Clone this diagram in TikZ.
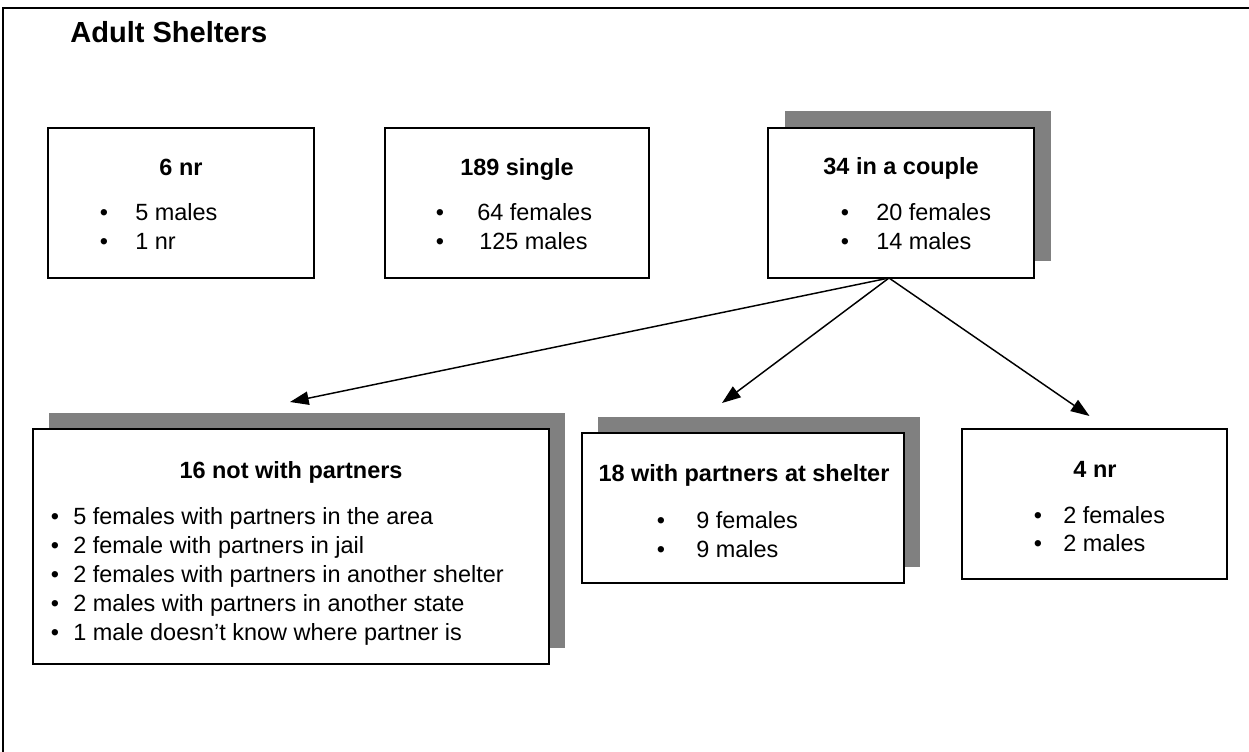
\documentclass[tikz,border=0pt]{standalone}
\usepackage{fontspec}
\setmainfont{Liberation Sans}
\usetikzlibrary{arrows.meta,calc}
\definecolor{shadegray}{HTML}{808080}
\tikzset{
  box/.style={draw=black, line width=1.4pt, fill=white, rectangle, inner sep=0pt, outer sep=0pt, anchor=north west},
  shadebox/.style={fill=shadegray, rectangle, inner sep=0pt, outer sep=0pt, anchor=north west},
  hd/.style={anchor=base, inner sep=0pt, font=\bfseries\fontsize{17.6pt}{20pt}\selectfont},
  itm/.style={anchor=base west, inner sep=0pt, font=\fontsize{17.6pt}{20pt}\selectfont},
  bul/.style={anchor=base, inner sep=0pt, font=\fontsize{17.6pt}{20pt}\selectfont},
  arr/.style={-{Triangle[length=14pt,width=10pt]}, line width=1.1pt},
  frameline/.style={line width=1.5pt},
}
\begin{document}
\begin{tikzpicture}[x=0.75pt,y=-0.75pt]
\useasboundingbox (0,0) rectangle (1249,752);
\draw[frameline] (3,752) -- (3,8) -- (1249,8);
\node[anchor=base west, inner sep=0pt, font=\bfseries\fontsize{21.8pt}{24pt}\selectfont] (title) at (70,43) {Adult Shelters};

% shadows
\node[shadebox, minimum width=199.5pt, minimum height=112.5pt] (Cs) at (785,111) {};
\node[shadebox, minimum width=387pt, minimum height=176.25pt] (Ds) at (49,413) {};
\node[shadebox, minimum width=241.5pt, minimum height=112.5pt] (Es) at (598,417) {};

% boxes
\node[box, minimum width=199.5pt, minimum height=112.5pt] (A) at (48,128) {};
\node[box, minimum width=198pt, minimum height=112.5pt] (B) at (385,128) {};
\node[box, minimum width=199.5pt, minimum height=112.5pt] (C) at (768,128) {};
\node[box, minimum width=387pt, minimum height=176.25pt] (D) at (33,429) {};
\node[box, minimum width=241.5pt, minimum height=112.5pt] (E) at (582,433) {};
\node[box, minimum width=198.75pt, minimum height=112.5pt] (F) at (962,429) {};

% box A
\node[hd] (Ah) at (181,176) {6 nr};
\node[bul] (Ab1) at (104,221) {•};
\node[itm] (At1) at (135,221) {5 males};
\node[bul] (Ab2) at (104,250) {•};
\node[itm] (At2) at (135,250) {1 nr};

% box B
\node[hd] (Bh) at (517,176) {189 single};
\node[bul] (Bb1) at (440,221) {•};
\node[itm] (Bt1) at (477,221) {64 females};
\node[bul] (Bb2) at (440,250) {•};
\node[itm] (Bt2) at (479,250) {125 males};

% box C
\node[hd] (Ch) at (901,175) {34 in a couple};
\node[bul] (Cb1) at (845,221) {•};
\node[itm] (Ct1) at (876,221) {20 females};
\node[bul] (Cb2) at (845,250) {•};
\node[itm] (Ct2) at (876,250) {14 males};

% box D
\node[hd] (Dh) at (291,478) {16 not with partners};
\node[bul] (Db1) at (55,524) {•};
\node[itm] (Dt1) at (73,524) {5 females with partners in the area};
\node[bul] (Db2) at (55,553) {•};
\node[itm] (Dt2) at (73,553) {2 female with partners in jail};
\node[bul] (Db3) at (55,582) {•};
\node[itm] (Dt3) at (73,582) {2 females with partners in another shelter};
\node[bul] (Db4) at (55,611) {•};
\node[itm] (Dt4) at (73,611) {2 males with partners in another state};
\node[bul] (Db5) at (55,640) {•};
\node[itm] (Dt5) at (73,640) {1 male doesn’t know where partner is};

% box E
\node[hd] (Eh) at (744,481) {18 with partners at shelter};
\node[bul] (Eb1) at (661,528) {•};
\node[itm] (Et1) at (696,528) {9 females};
\node[bul] (Eb2) at (661,557) {•};
\node[itm] (Et2) at (696,557) {9 males};

% box F
\node[hd] (Fh) at (1095,477) {4 nr};
\node[bul] (Fb1) at (1038,523) {•};
\node[itm] (Ft1) at (1063,523) {2 females};
\node[bul] (Fb2) at (1038,551) {•};
\node[itm] (Ft2) at (1063,551) {2 males};

% connectors
\coordinate (Cout) at ($(C.south)+(-12,0)$);
\coordinate (tD) at ($(D.north)+(-1,-27)$);
\coordinate (tE) at ($(E.north)+(-21,-30)$);
\coordinate (tF) at ($(F.north)+(-5,-13)$);
\draw[arr] (Cout) -- (tD);
\draw[arr] (Cout) -- (tE);
\draw[arr] (Cout) -- (tF);
\end{tikzpicture}
\end{document}
